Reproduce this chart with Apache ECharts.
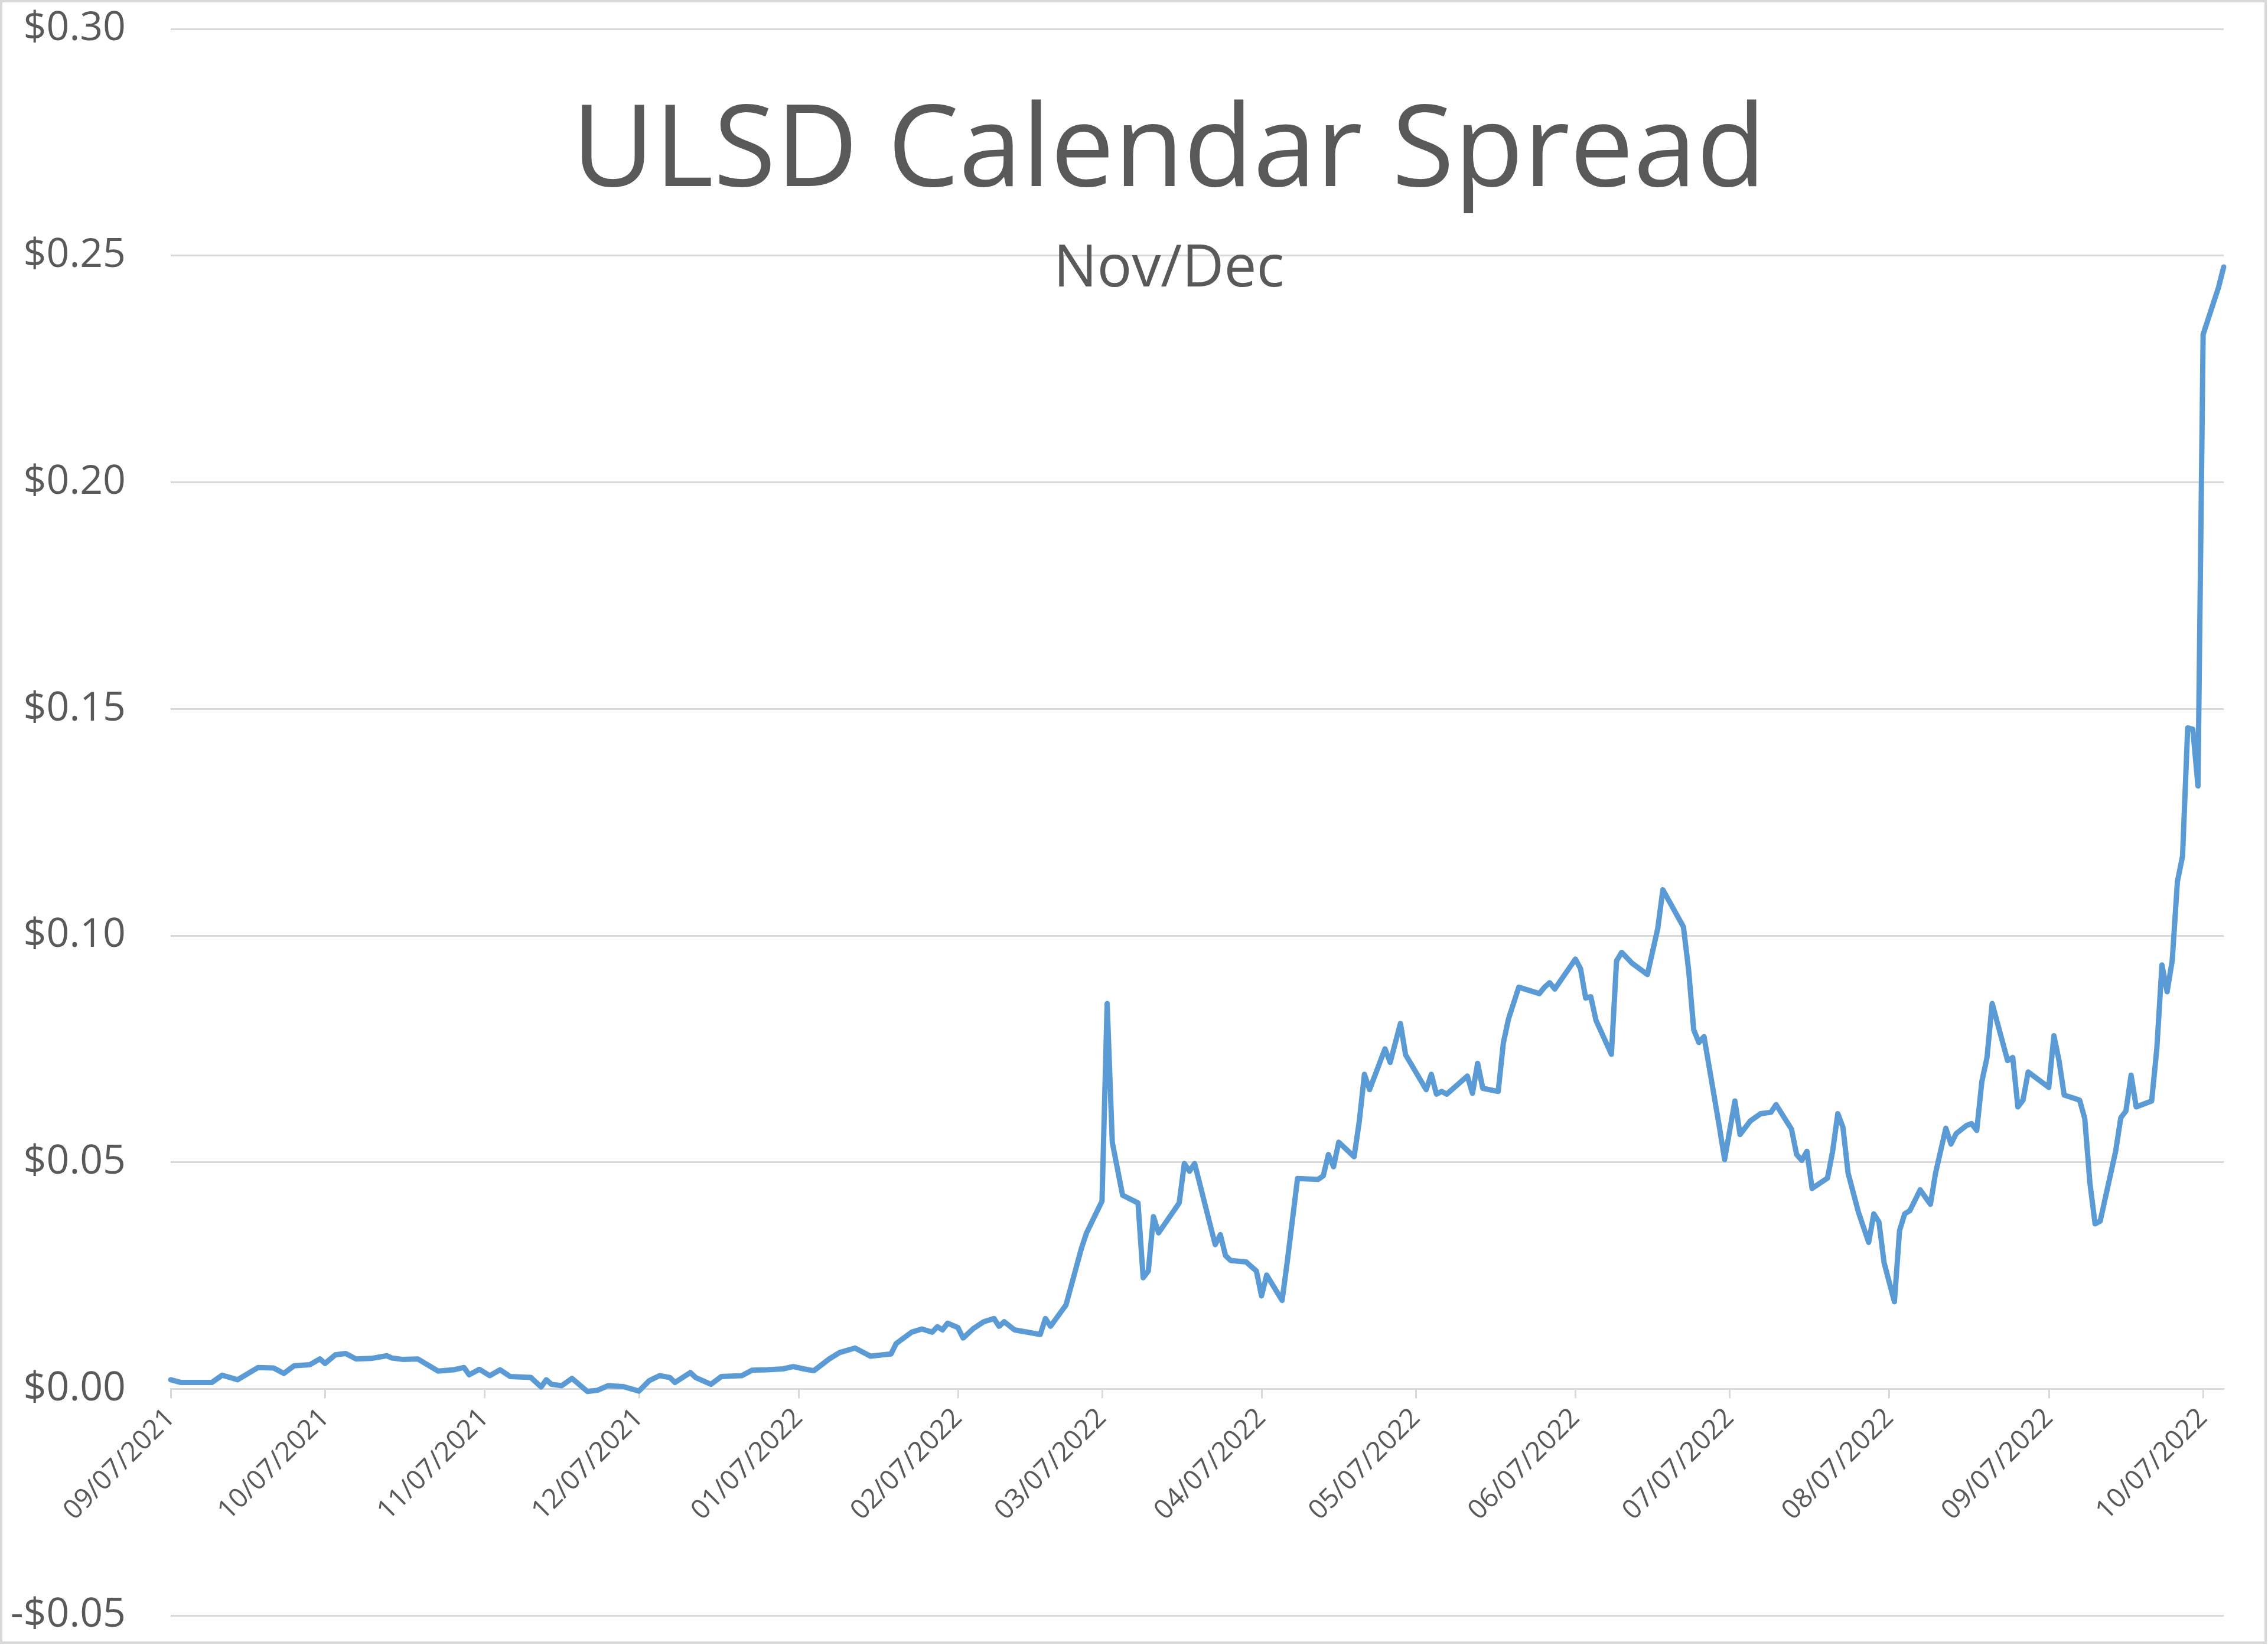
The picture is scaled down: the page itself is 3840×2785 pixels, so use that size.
<!DOCTYPE html>
<html>
<head>
<meta charset="utf-8">
<script src="https://cdn.jsdelivr.net/npm/echarts@6/dist/echarts.min.js"></script>
<style>
html,body{margin:0;padding:0;background:#ffffff;}
#chart{width:3840px;height:2785px;}
</style>
</head>
<body>
<div id="chart"></div>
<script>
// ---- DATA: [day of month, spread $/gal], grouped by month ----
const sep2021 = [[7,0.002],[9,0.0014],[15,0.0014],[17,0.003],[20,0.002],[24,0.0047],[27,0.0046],[29,0.0034]];
const oct2021 = [[1,0.0051],[4,0.0053],[6,0.0066],[7,0.0056],[9,0.0075],[11,0.0078],[13,0.0066],[16,0.0067],[19,0.0073],[20,0.0068],[22,0.0065],[25,0.0066],[29,0.0039]];
const nov2021 = [[1,0.0042],[3,0.0047],[4,0.0031],[6,0.0043],[8,0.0029],[10,0.0042],[12,0.0027],[16,0.0025],[18,0.0004],[19,0.002],[20,0.001],[22,0.0007],[24,0.0023],[27,-0.0006],[29,-0.0003]];
const dec2021 = [[1,0.0007],[4,0.0005],[7,-0.0005],[9,0.0018],[11,0.0029],[13,0.0025],[14,0.0014],[17,0.0036],[18,0.0025],[21,0.001],[23,0.0027],[27,0.0029],[29,0.0041]];
const jan2022 = [[1,0.0042],[4,0.0044],[6,0.0049],[8,0.0044],[10,0.004],[13,0.0066],[15,0.008],[18,0.009],[21,0.0072],[25,0.0077],[26,0.010],[29,0.0125],[31,0.0132]];
const feb2022 = [[2,0.0125],[3,0.0137],[4,0.013],[5,0.0145],[7,0.0135],[8,0.0112],[10,0.0133],[12,0.0148],[14,0.0155],[15,0.0138],[16,0.0148],[18,0.013],[23,0.012],[24,0.0155],[25,0.0138],[28,0.0185]];
const mar2022 = [[3,0.031],[4,0.0344],[7,0.0414],[8,0.085],[9,0.0544],[11,0.0427],[14,0.041],[15,0.0245],[16,0.026],[17,0.038],[18,0.0344],[22,0.041],[23,0.0497],[24,0.048],[25,0.0497],[29,0.0318],[30,0.034],[31,0.0294]];
const apr2022 = [[1,0.0283],[4,0.028],[6,0.026],[7,0.0205],[8,0.0251],[11,0.0195],[12,0.028],[14,0.0464],[18,0.0462],[19,0.047],[20,0.0517],[21,0.049],[22,0.0544],[25,0.0512],[26,0.059],[27,0.0694],[28,0.066]];
const may2022 = [[1,0.075],[2,0.072],[4,0.0806],[5,0.0737],[9,0.066],[10,0.0694],[11,0.065],[12,0.0656],[13,0.065],[17,0.069],[18,0.0652],[19,0.0718],[20,0.0663],[23,0.0656],[24,0.0763],[25,0.0816],[27,0.0886],[31,0.0872]];
const jun2022 = [[1,0.0886],[2,0.0896],[3,0.0882],[7,0.0948],[8,0.0927],[9,0.0862],[10,0.0865],[11,0.0813],[14,0.0738],[15,0.0944],[16,0.0963],[18,0.0939],[21,0.0914],[23,0.1015],[24,0.1101],[28,0.1019],[29,0.0925],[30,0.0792]];
const jul2022 = [[1,0.0764],[2,0.0777],[5,0.0577],[6,0.0506],[8,0.0635],[9,0.0561],[11,0.0591],[13,0.0607],[15,0.061],[16,0.0627],[19,0.0573],[20,0.0517],[21,0.0504],[22,0.0524],[23,0.0442],[26,0.0465],[27,0.0524],[28,0.0607],[29,0.0577],[30,0.0476]];
const aug2022 = [[1,0.039],[3,0.0323],[4,0.0386],[5,0.0368],[6,0.0278],[8,0.0192],[9,0.0349],[10,0.0386],[11,0.0393],[13,0.0439],[15,0.0407],[16,0.0476],[18,0.0575],[19,0.054],[20,0.0563],[22,0.0581],[23,0.0585],[24,0.057],[25,0.0678],[26,0.0731],[27,0.085],[30,0.0724],[31,0.0731]];
const sep2022 = [[1,0.0622],[2,0.0637],[3,0.0699],[7,0.0665],[8,0.0779],[9,0.0724],[10,0.0648],[13,0.0637],[14,0.0596],[15,0.0454],[16,0.0364],[17,0.037],[20,0.0524],[21,0.0598],[22,0.0613],[23,0.0692],[24,0.0622],[27,0.0635],[28,0.075],[29,0.0935],[30,0.0876]];
const oct2022 = [[1,0.0945],[2,0.1119],[3,0.1175],[4,0.1458],[5,0.1455],[6,0.133],[7,0.2326],[10,0.243],[11,0.2475]];

const months = [
  [2021, 9, sep2021], [2021, 10, oct2021], [2021, 11, nov2021], [2021, 12, dec2021],
  [2022, 1, jan2022], [2022, 2, feb2022], [2022, 3, mar2022], [2022, 4, apr2022],
  [2022, 5, may2022], [2022, 6, jun2022], [2022, 7, jul2022], [2022, 8, aug2022],
  [2022, 9, sep2022], [2022, 10, oct2022]
];

// tick labels
const xTickLabels = ['09/07/2021','10/07/2021','11/07/2021','12/07/2021','01/07/2022','02/07/2022','03/07/2022','04/07/2022','05/07/2022','06/07/2022','07/07/2022','08/07/2022','09/07/2022','10/07/2022'];
const yTickLabels = ['-$0.05','$0.00','$0.05','$0.10','$0.15','$0.20','$0.25','$0.30'];

const titleText = 'ULSD Calendar Spread';
const subtitleText = 'Nov/Dec';

// ---- build ----
function ts(y, m, d) { return Date.UTC(y, m - 1, d); }
function parseMDY(s) { const p = s.split('/'); return ts(+p[2], +p[0], +p[1]); }

const seriesData = [];
months.forEach(([y, m, arr]) => arr.forEach(([d, v]) => seriesData.push([ts(y, m, d), v])));

const xTickValues = xTickLabels.map(parseMDY);
function xLabel(v) {
  for (let i = 0; i < xTickValues.length; i++) {
    if (Math.abs(xTickValues[i] - v) < 3600000) return xTickLabels[i];
  }
  return '';
}

const FONT = '"Open Sans", "Noto Sans", sans-serif';
const TXT = '#595959';
const GRID = '#D9D9D9';

const GRID_TOP = 49, GRID_BOTTOM = 50, CHART_H = 2785;
const Y_MIN = -0.05, Y_MAX = 0.30;
// move the date axis up to the zero line (Excel: horizontal axis crosses at 0)
const plotH = CHART_H - GRID_TOP - GRID_BOTTOM;
const zeroOffset = -plotH * (0 - Y_MIN) / (Y_MAX - Y_MIN);

const chart = echarts.init(document.getElementById('chart'), null, { renderer: 'canvas' });
chart.setOption({
  animation: false,
  backgroundColor: '#ffffff',
  title: [
    { text: titleText, left: 1979, top: 164, textAlign: 'center', padding: 0,
      textStyle: { fontFamily: FONT, fontSize: 192, fontWeight: 'normal', color: TXT } },
    { text: subtitleText, left: 1979, top: 408, textAlign: 'center', padding: 0,
      textStyle: { fontFamily: FONT, fontSize: 98, fontWeight: 'normal', color: TXT } }
  ],
  graphic: [
    { type: 'rect', silent: true, z: -1,
      shape: { x: 2, y: 2, width: 3834, height: 2779 },
      style: { fill: 'none', stroke: GRID, lineWidth: 4 } }
  ],
  grid: { left: 289, right: 75, top: GRID_TOP, bottom: GRID_BOTTOM, containLabel: false, outerBoundsMode: 'none' },
  xAxis: {
    type: 'value',
    min: ts(2021, 9, 7),
    max: ts(2022, 10, 11),
    offset: zeroOffset,
    axisLine: { show: true, onZero: false, lineStyle: { color: GRID, width: 3 } },
    axisTick: { show: true, customValues: xTickValues, length: 16, lineStyle: { color: GRID, width: 3 } },
    axisLabel: {
      customValues: xTickValues,
      rotate: 45,
      margin: 42,
      fontFamily: FONT, fontSize: 46, color: TXT,
      formatter: (v) => xLabel(v)
    },
    splitLine: { show: false }
  },
  yAxis: {
    type: 'value',
    min: Y_MIN, max: Y_MAX, interval: 0.05,
    axisLine: { show: false },
    axisTick: { show: false },
    splitLine: { show: true, lineStyle: { color: GRID, width: 3 } },
    axisLabel: {
      margin: 76,
      fontFamily: FONT, fontSize: 68, color: TXT,
      formatter: (v) => yTickLabels[Math.round((v - Y_MIN) / 0.05)]
    }
  },
  series: [{
    type: 'line',
    data: seriesData,
    showSymbol: false,
    symbol: 'none',
    smooth: false,
    lineStyle: { color: '#5B9BD5', width: 9, cap: 'round', join: 'round' },
    itemStyle: { color: '#5B9BD5' }
  }]
});
</script>
</body>
</html>
